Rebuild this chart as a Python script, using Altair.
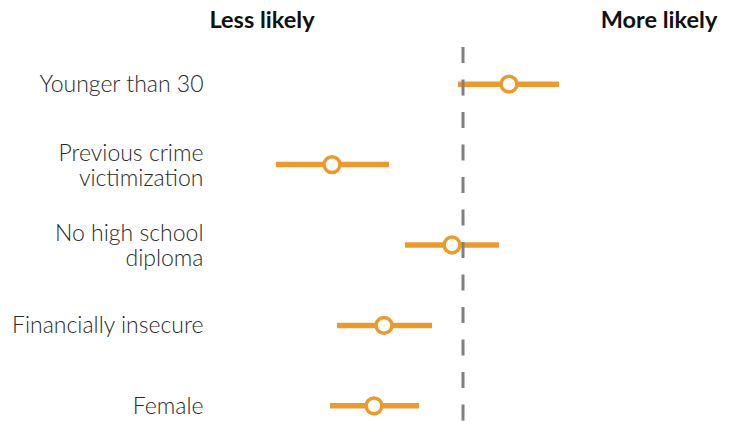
import altair as alt
import pandas as pd

# Data (effect estimates, arbitrary log-odds-like units; 0 = no effect)
categories = ["Younger than 30", "Previous crime|victimization", "No high school|diploma",
              "Financially insecure", "Female"]
estimate = [0.46, -1.31, -0.11, -0.79, -0.89]
ci_low = [-0.05, -1.87, -0.58, -1.26, -1.33]
ci_high = [0.96, -0.74, 0.36, -0.31, -0.44]

header_text = ["Less likely", "More likely"]
header_pos = [-2.01, 1.96]

ORANGE = "#EC9A2D"
GRAY = "#808080"
FONT = "Lato"

df = pd.DataFrame({"cat": categories, "est": estimate, "lo": ci_low, "hi": ci_high})
hdr = pd.DataFrame({"text": header_text, "x": header_pos})

xscale = alt.Scale(domain=[-2.5, 2.6], nice=False, zero=False)
yenc = alt.Y("cat:N", sort=categories, title=None,
             scale=alt.Scale(paddingInner=0, paddingOuter=0),
             axis=alt.Axis(labelExpr="split(datum.label, '|')",
                           labelFont="'Lato Light', Lato",
                           labelFontWeight=300, labelFontSize=23, labelColor="#2a2a2a",
                           labelLineHeight=25, labelPadding=10, ticks=False, domain=False,
                           grid=False, labelAlign="right", labelBaseline="middle",
                           labelOffset={"condition": {"test": "indexof(datum.value, '|') >= 0",
                                                      "value": -11},
                                        "value": 1},
                           labelLimit=400))

base = alt.Chart(df)

ci = base.mark_rule(color=ORANGE, strokeWidth=5.5).encode(
    x=alt.X("lo:Q", scale=xscale, axis=None),
    x2="hi:Q",
    y=yenc,
)

ref = alt.Chart(pd.DataFrame({"v": [0]})).mark_rule(
    color=GRAY, strokeWidth=3, strokeDash=[16, 16.5]
).encode(
    x=alt.X("v:Q", scale=xscale, axis=None),
    y=alt.value(3),
    y2=alt.value(402),
)

pts = base.mark_point(shape="circle", size=250, filled=True, fill="white",
                      stroke=ORANGE, strokeWidth=3.5, opacity=1).encode(
    x=alt.X("est:Q", scale=xscale, axis=None),
    y=yenc,
)

headers = alt.Chart(hdr).mark_text(font=FONT, fontWeight="bold", fontSize=23.5,
                                   color="#111111", baseline="middle", align="center").encode(
    x=alt.X("x:Q", scale=xscale, axis=None),
    y=alt.value(-23),
    text="text:N",
)

chart = alt.layer(ci, ref, pts, headers).properties(
    width=510, height=402,
    background="white",
    autosize=alt.AutoSizeParams(type="none"),
    padding={"left": 205, "top": 36, "right": 0, "bottom": 0},
).configure_view(strokeWidth=0, stroke=None)

chart.save("out.html", embed_options={"renderer": "svg", "actions": False})
